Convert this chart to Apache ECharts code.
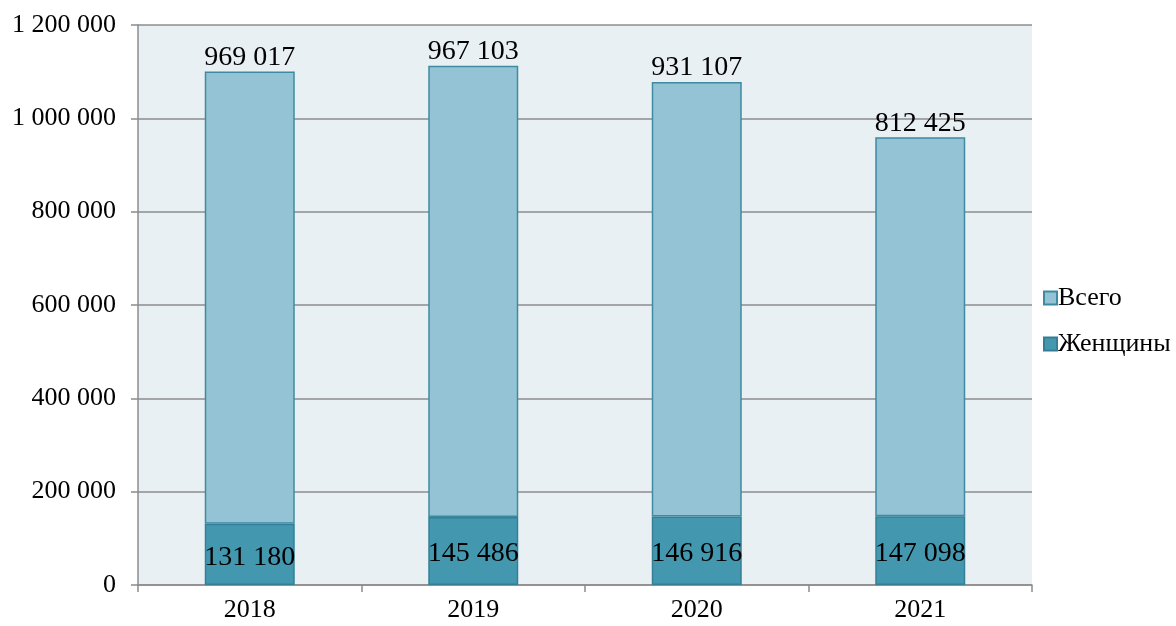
<!DOCTYPE html>
<html>
<head>
<meta charset="utf-8">
<script src="https://cdn.jsdelivr.net/npm/echarts@6/dist/echarts.min.js"></script>
<style>
  html, body { margin: 0; padding: 0; background: #ffffff; }
  #chart { width: 1176px; height: 626px; }
</style>
</head>
<body>
<div id="chart"></div>
<script>
// Годы и значения по рядам
const years = ['2018', '2019', '2020', '2021'];
const women = [131180, 145486, 146916, 147098];
const total = [969017, 967103, 931107, 812425];
const yTicks = { min: 0, max: 1200000, interval: 200000 };

const fmt = v => String(v).replace(/\B(?=(\d{3})+(?!\d))/g, ' ');
const serif = '"Liberation Serif", "DejaVu Serif", serif';

const chart = echarts.init(document.getElementById('chart'));
chart.setOption({
  animation: false,
  textStyle: { fontFamily: serif },
  grid: {
    left: 138, right: 144, top: 25, bottom: 41,
    show: true, backgroundColor: '#e9f0f4', borderWidth: 0
  },
  legend: {
    orient: 'vertical',
    left: 1038, top: 280,
    itemWidth: 13, itemHeight: 13, itemGap: 20,
    icon: 'rect',
    data: ['Всего', 'Женщины'],
    textStyle: { fontFamily: serif, fontSize: 26, color: '#000', padding: [0, 0, 0, -4] }
  },
  xAxis: {
    type: 'category',
    data: years,
    axisLine: { lineStyle: { color: '#8c8c8c', width: 1.5 } },
    axisTick: { show: true, length: 7, lineStyle: { color: '#8c8c8c', width: 1.5 } },
    axisLabel: { fontFamily: serif, fontSize: 26, color: '#000', margin: 12 }
  },
  yAxis: {
    type: 'value',
    min: yTicks.min, max: yTicks.max, interval: yTicks.interval,
    axisLine: { show: true, lineStyle: { color: '#8c8c8c', width: 1.5 } },
    axisTick: { show: true, length: 7, lineStyle: { color: '#8c8c8c', width: 1.5 } },
    splitLine: { lineStyle: { color: '#8c8c8c', width: 1.5 } },
    axisLabel: { fontFamily: serif, fontSize: 26, color: '#000', margin: 22, formatter: fmt }
  },
  series: [
    {
      name: 'Женщины', type: 'bar', stack: 'all', data: women,
      barWidth: 90,
      itemStyle: { color: '#4398b0', borderColor: '#357f96', borderWidth: 1.5 },
      label: {
        show: true, position: 'inside', formatter: p => fmt(p.value),
        fontFamily: serif, fontSize: 28, color: '#000', offset: [0, 3]
      }
    },
    {
      name: 'Всего', type: 'bar', stack: 'all', data: total,
      barWidth: 90,
      itemStyle: { color: '#94c3d5', borderColor: '#3d8aa1', borderWidth: 1.5 },
      label: {
        show: true, position: 'top', distance: 0, formatter: p => fmt(p.value),
        fontFamily: serif, fontSize: 28, color: '#000'
      }
    }
  ]
});
</script>
</body>
</html>
